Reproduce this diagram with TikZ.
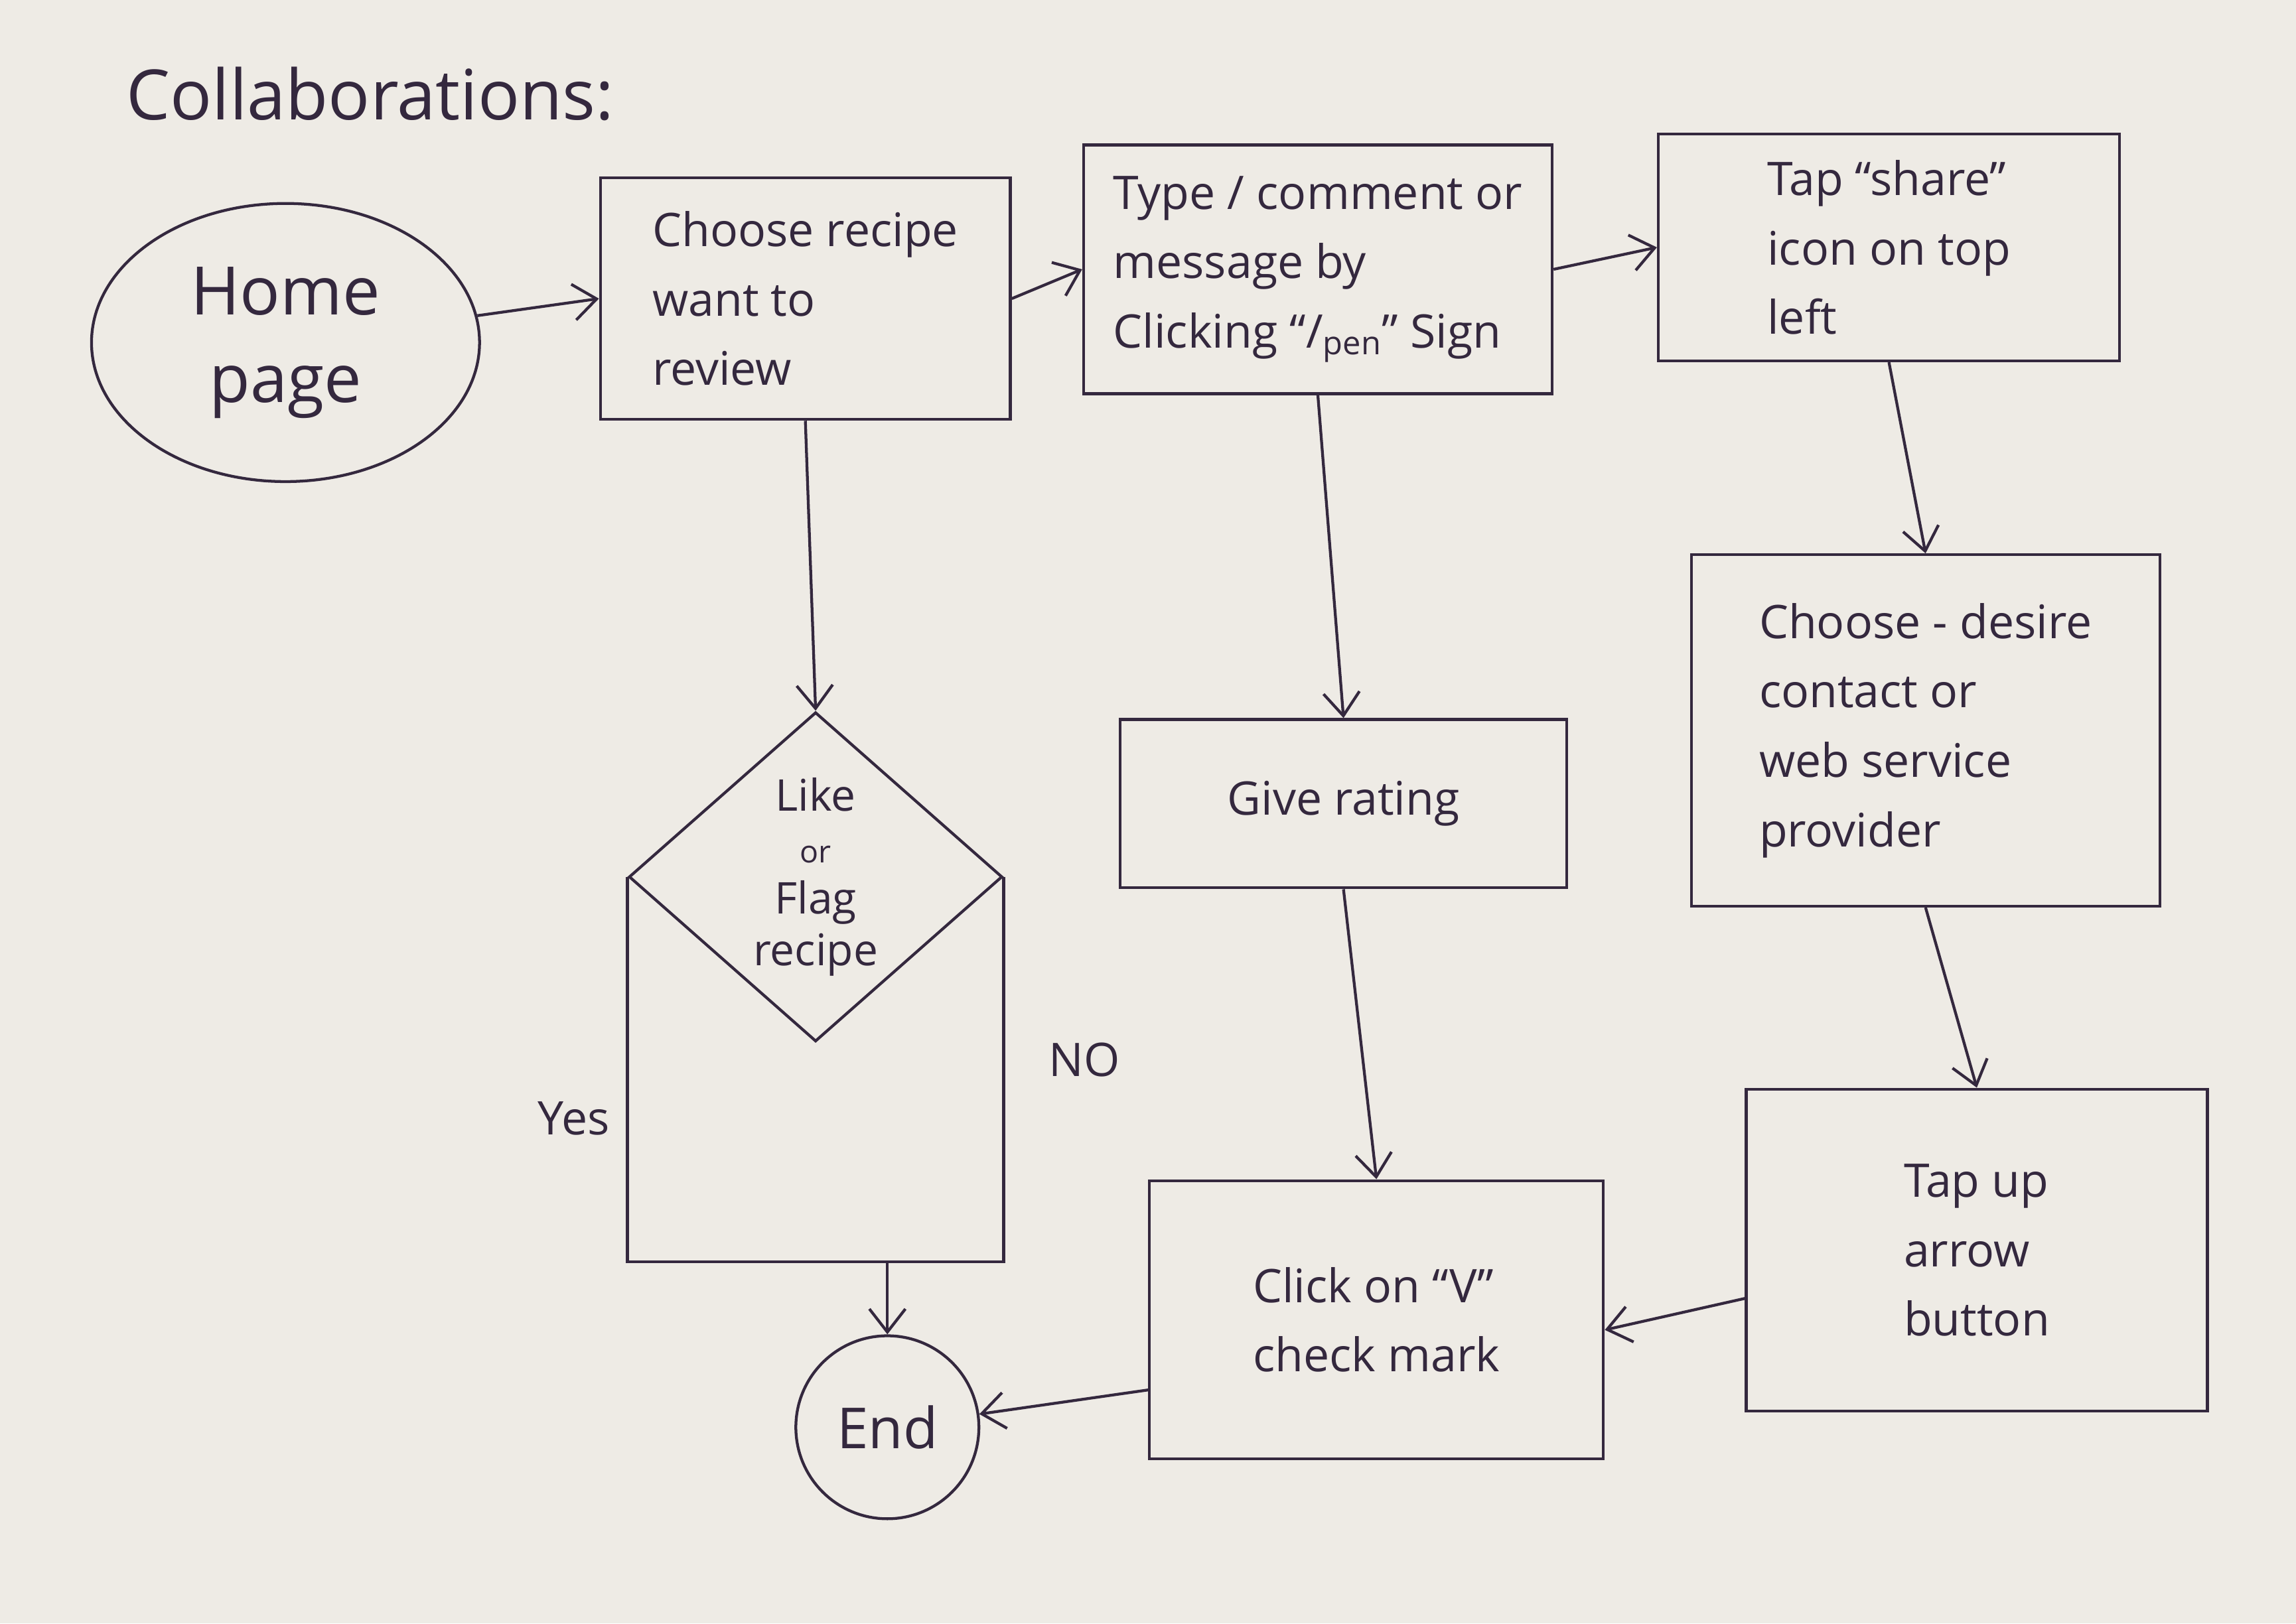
\documentclass[tikz,border=0pt]{standalone}
\usepackage{fontspec}
\setmainfont{Open Sans}
\usetikzlibrary{shapes.geometric}
\usetikzlibrary{arrows.meta}

\definecolor{paper}{RGB}{238,235,229}
\definecolor{ink}{RGB}{52,40,62}

\begin{document}
\begin{tikzpicture}[
    inkline/.style={draw=ink, line width=1.1pt},
    flowbox/.style={inkline, rectangle, align=left, text=ink, font=\fontsize{18}{27}\selectfont},
    flowarrow/.style={inkline, -{Straight Barb[length=9pt,width=14pt]}},
    tag/.style={text=ink, font=\fontsize{18}{22}\selectfont}
  ]
    % Paper
    \fill [paper] (0,0) rectangle (31.36,22.18);

    % Title
    \node (title) [anchor=west, text=ink, font=\fontsize{27}{32}\selectfont] at (1.6,20.9) {Collaborations:};

    % Start
    \node (home) [inkline, ellipse, minimum width=5.3cm, minimum height=3.8cm, align=center, text=ink, font=\fontsize{26}{34}\selectfont] at (3.9,17.5) {Home\\page};

    % Top row
    \node (choose) [flowbox, minimum width=5.6cm, minimum height=3.3cm] at (11.0,18.1) {Choose recipe\\want to\\review};
    \node (comment) [flowbox, minimum width=6.4cm, minimum height=3.4cm] at (18.0,18.5) {Type / comment or\\message by\\Clicking “/\textsubscript{pen}” Sign};
    \node (share) [flowbox, minimum width=6.3cm, minimum height=3.1cm] at (25.8,18.8) {Tap “share”\\icon on top\\left};

    % Decision
    \node (likeflag) [inkline, diamond, minimum width=5.1cm, minimum height=4.5cm, inner sep=0pt, align=center, text=ink, font=\fontsize{17}{20}\selectfont] at (11.14,10.2) {Like\\{\fontsize{12}{14}\selectfont or}\\Flag\\recipe};
    \coordinate (merge) at (12.12,4.94);
    \node (yes) [tag, anchor=east] at (8.45,6.9) {Yes};
    \node (no) [tag, anchor=west] at (14.2,7.7) {NO};

    % Middle and right columns
    \node (rating) [flowbox, minimum width=6.1cm, minimum height=2.3cm] at (18.35,11.2) {Give rating};
    \node (contact) [flowbox, minimum width=6.4cm, minimum height=4.8cm] at (26.3,12.2) {Choose - desire\\contact or\\web service\\provider};
    \node (check) [flowbox, minimum width=6.2cm, minimum height=3.8cm] at (18.8,4.15) {Click on “V”\\check mark};
    \node (uparrow) [flowbox, minimum width=6.3cm, minimum height=4.4cm] at (27.0,5.1) {Tap up\\arrow\\button};

    % End
    \node (end) [inkline, circle, minimum size=2.5cm, text=ink, font=\fontsize{22}{26}\selectfont] at (12.12,2.68) {End};

    % Arrows along the top
    \draw [flowarrow] (home) -- (choose.west);
    \draw [flowarrow] (choose.east) -- (comment.west);
    \draw [flowarrow] (comment.east) -- (share.west);

    % Arrows down
    \draw [flowarrow] (choose.south) -- (likeflag.north);
    \draw [flowarrow] (comment.south) -- (rating.north);
    \draw [flowarrow] (share.south) -- (contact.north);
    \draw [flowarrow] (rating.south) -- (check.north);
    \draw [flowarrow] (contact.south) -- (uparrow.north);

    % Yes / No branches
    \draw [inkline] (likeflag.west) |- (merge);
    \draw [inkline] (likeflag.east) |- (merge);
    \draw [flowarrow] (merge) -- (end);

    % Back to the end
    \draw [flowarrow] ([yshift=-6.6mm]uparrow.west) -- ([yshift=-1.4mm]check.east);
    \draw [flowarrow] ([yshift=-9.6mm]check.west) -- (end);
\end{tikzpicture}
\end{document}
